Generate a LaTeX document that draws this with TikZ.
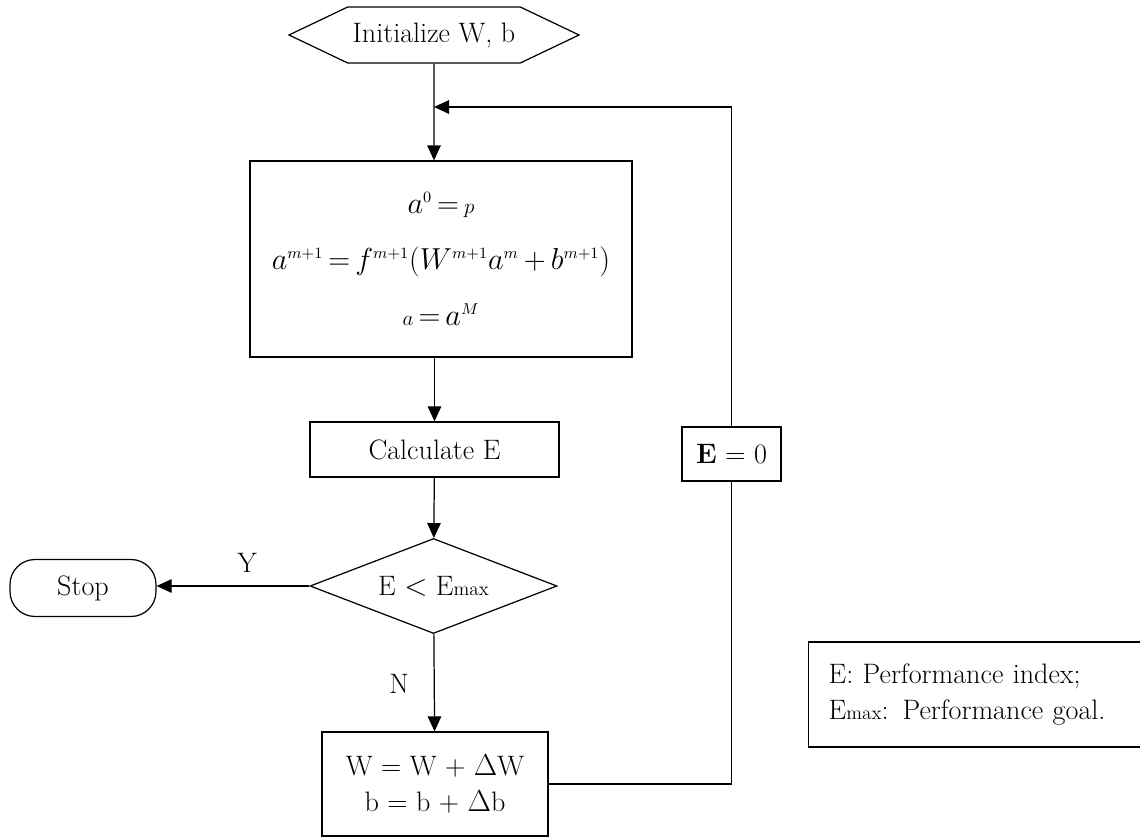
\documentclass[tikz,border=0pt]{standalone}
\usetikzlibrary{shapes.geometric,shapes.symbols,arrows.meta}

\newcommand{\lowfont}[1]{\mbox{\fontsize{13}{13}\selectfont$#1$}}
\newcommand{\hi}[1]{^{\scriptscriptstyle #1}}
\newcommand{\Emax}{E{\fontsize{11}{11}\selectfont max}}

\tikzset{
  flowtext/.style={font=\fontsize{16}{20.5}\selectfont},
  start/.style={draw, signal, signal to=west and east, signal pointer angle=51,
    minimum width=5.8cm, minimum height=1.12cm, inner sep=0pt, flowtext},
  process/.style={draw, rectangle, align=center, inner sep=0pt, flowtext},
  decision/.style={draw, diamond, aspect=2.6, inner sep=0pt, minimum width=4.94cm,
    minimum height=1.9cm, flowtext},
  terminal/.style={draw, rectangle, rounded corners=0.5cm, minimum width=2.92cm,
    minimum height=1.14cm, flowtext},
  flow/.style={-{Triangle[length=0.3cm,width=0.27cm]}}
}

\begin{document}
\begin{tikzpicture}[line width=0.7pt]
  % Fix the page to the size of the figure
  \useasboundingbox (0,0) rectangle (22.8,-16.74);

  % Draw the blocks
  \node[start] (init) at (8.68,-0.70) {Initialize W, b};
  \node[process, minimum width=7.64cm, minimum height=3.92cm,
    font=\fontsize{17.5}{32}\selectfont] (model) at (8.82,-5.18)
    {$a\hi{0}\,{=}\,\lowfont{p}$\\
     $a\hi{m+1}\,{=}\,f\hi{m+1}\bigl(W\hi{m+1}a\hi{m}\,{+}\,b\hi{m+1}\bigr)$\\
     $\lowfont{a}\,{=}\,a\hi{M}$};
  \node[process, minimum width=4.98cm, minimum height=1.1cm] (calc) at (8.69,-8.99) {Calculate E};
  \node[decision] (test) at (8.67,-11.72) {E $<$ \Emax};
  \node[terminal] (stop) at (1.66,-11.76) {Stop};
  \node[process, minimum width=4.52cm, minimum height=2.08cm] (update) at (8.70,-15.68)
    {W = W + $\Delta$W\\ b = b + $\Delta$b};
  \node[process, minimum width=1.98cm, minimum height=1.08cm, fill=white] (reset) at (14.63,-9.08)
    {\textbf{E} = 0};
  \coordinate (join) at (8.68,-2.14);

  % Write the branch labels
  \node[flowtext] (ylabel) at (4.94,-11.26) {Y};
  \node[flowtext] (nlabel) at (7.98,-13.68) {N};

  % Draw the connectors
  \draw[flow] (init) -- (init |- model.north);
  \draw[flow] (model.south -| calc) -- (calc);
  \draw[flow] (calc) -- (test);
  \draw[flow] (test.west) -- (test.west -| stop.east);
  \draw[flow] (test) -- (update);
  \draw (update) -- (update -| reset) -- (reset);
  \draw[flow] (reset) -- (reset |- join) -- (join);

  % The legend box runs past the right edge
  \node[process, anchor=west, minimum width=6.84cm, minimum height=2.1cm,
    text width=6.04cm, inner xsep=0.4cm, align=left] (legend) at (16.16,-13.89)
    {E: Performance index;\\ \Emax: Performance goal.};
\end{tikzpicture}
\end{document}
